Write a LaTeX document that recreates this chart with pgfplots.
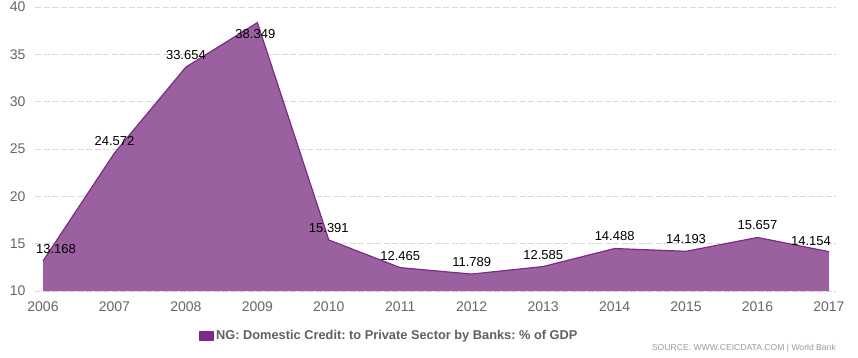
\documentclass[border=0pt]{standalone}
\usepackage{pgfplots}
\pgfplotsset{compat=1.18}
\usepackage{fontspec}
\setmainfont{Liberation Sans}
\definecolor{areafill}{HTML}{9A60A0}
\definecolor{arealine}{HTML}{7B2D86}
\definecolor{ticktext}{HTML}{666666}
\definecolor{legtext}{HTML}{606060}
\definecolor{gridc}{HTML}{D9D9D9}
\definecolor{sourcec}{HTML}{9A9A9A}
\frenchspacing
\begin{document}
\begin{tikzpicture}
\useasboundingbox (0,0) rectangle (858pt,357pt);
\begin{axis}[
  at={(35pt,66pt)}, anchor=south west, scale only axis,
  width=801pt, height=284pt,
  xmin=2005.888, xmax=2017.098, ymin=10, ymax=40,
  xtick={2006,...,2017}, ytick={10,15,...,40},
  axis line style={draw=none}, tick style={draw=none},
  ymajorgrids, grid style={gridc, dash pattern=on 6pt off 2.5pt, line width=0.8pt},
  /pgf/number format/assume math mode=true,
  xticklabel style={/pgf/number format/1000 sep={}, font=\fontsize{14}{16}\selectfont, text=ticktext, yshift=-7pt},
  yticklabel style={font=\fontsize{14}{16}\selectfont, text=ticktext, xshift=-6pt},
  clip mode=individual,
  legend style={at={(0.2047,-0.158)}, anchor=west, draw=none, fill=none, inner sep=0pt,
    font=\bfseries\fontsize{12.8}{14}\selectfont, text=legtext},
  legend image code/.code={\fill[arealine] (0pt,-5pt) rectangle (15pt,5pt);},
  every node near coord/.append style={font=\fontsize{13}{15}\selectfont, text=black,
    /pgf/number format/fixed, /pgf/number format/precision=3, /pgf/number format/fixed zerofill},
]
\addplot[fill=areafill, draw=none] coordinates {
(2006,13.168) (2007,24.572) (2008,33.654) (2009,38.349) (2010,15.391) (2011,12.465)
(2012,11.789) (2013,12.585) (2014,14.488) (2015,14.193) (2016,15.657) (2017,14.154)
} \closedcycle;
\addlegendentry{NG: Domestic Credit: to Private Sector by Banks: \% of GDP}
\addplot[arealine, line width=1.2pt, mark=none, forget plot] coordinates {
(2006,13.168) (2007,24.572) (2008,33.654) (2009,38.349) (2010,15.391) (2011,12.465)
(2012,11.789) (2013,12.585) (2014,14.488) (2015,14.193) (2016,15.657) (2017,14.154)
};
\addplot[draw=none, mark=none, forget plot, nodes near coords,
  nodes near coords style={anchor=center, yshift=12pt}] coordinates {
(2007,24.572) (2008,33.654) (2010,15.391) (2011,12.465)
(2012,11.789) (2013,12.585) (2014,14.488) (2015,14.193) (2016,15.657)
};
\addplot[draw=none, mark=none, forget plot, nodes near coords,
  nodes near coords style={anchor=center, yshift=12pt, xshift=13pt}] coordinates {(2006,13.168)};
\addplot[draw=none, mark=none, forget plot, nodes near coords,
  nodes near coords style={anchor=center, yshift=11pt, xshift=-18pt}] coordinates {(2017,14.154)};
\addplot[draw=none, mark=none, forget plot, nodes near coords,
  nodes near coords style={anchor=center, yshift=-11pt, xshift=-2pt}] coordinates {(2009,38.349)};
\end{axis}
\node[anchor=east, font=\fontsize{8.6}{10}\selectfont, text=sourcec, inner sep=0pt] at (836pt,9pt) {SOURCE: WWW.CEICDATA.COM | World Bank};
\end{tikzpicture}
\end{document}
